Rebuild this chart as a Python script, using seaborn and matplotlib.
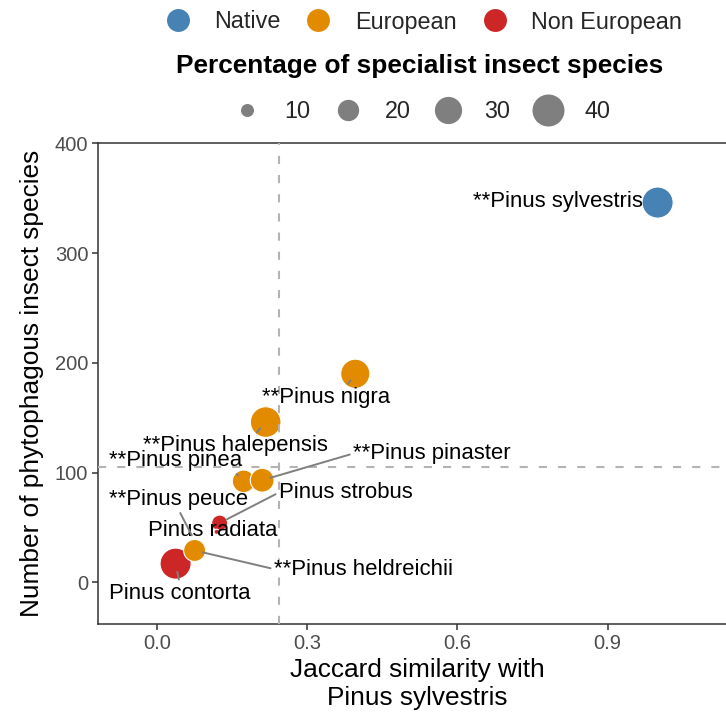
import numpy as np
import pandas as pd
import matplotlib
matplotlib.use("Agg")
import matplotlib.pyplot as plt
from matplotlib.lines import Line2D
import seaborn as sns

# ---------------- data ----------------
species = ["**Pinus sylvestris", "**Pinus nigra", "**Pinus halepensis", "**Pinus pinea",
           "**Pinus pinaster", "Pinus strobus", "Pinus radiata", "Pinus contorta",
           "**Pinus peuce", "**Pinus heldreichii"]
origin = ["Native", "European", "European", "European", "European",
          "Non European", "Non European", "Non European", "European", "European"]
jaccard = [1.0, 0.396, 0.217, 0.173, 0.210, 0.125, 0.119, 0.037, 0.077, 0.075]
n_insects = [346, 190, 146, 92, 93, 54, 46, 17, 36, 29]
pct_specialist = [38, 34, 37, 22, 24, 13, 5, 38, 5, 21]

origin_levels = ["Native", "European", "Non European"]
origin_colors = ["#4682B4", "#E38B00", "#CD2626"]
size_breaks = [10, 20, 30, 40]
x_ticks = [0.0, 0.3, 0.6, 0.9]
x_tick_labels = ["0.0", "0.3", "0.6", "0.9"]
y_ticks = [0, 100, 200, 300, 400]

# label placement (text anchor, data coords) and segment attachment on the label box
label_x = [0.970, 0.338, 0.157, 0.036, 0.549, 0.377, 0.111, 0.045, 0.043, 0.412]
label_y = [346.9, 168.2, 124.2, 111.2, 117.3, 81.8, 47.5, -10.0, 75.7, 12.1]
label_ha = ["right", "center", "center", "center", "center", "center", "center", "center", "center", "center"]
label_relpos = [None, (0.65, 1.0), (0.6, 1.0), (0.94, 0.0), (0.0, 0.5), (0.0, 0.5),
                None, (0.5, 1.0), (0.5, 0.0), (0.0, 0.5)]

df = pd.DataFrame({"species": species, "origin": origin, "jaccard": jaccard,
                   "n": n_insects, "pct": pct_specialist})

# ---------------- style ----------------
sns.set_style("white")
plt.rcParams["font.family"] = ["Liberation Sans", "DejaVu Sans"]

SIZE_NORM = (5, 40)
SIZE_RANGE = (13.7, 531.0)


def size_of(v):
    return SIZE_RANGE[0] + (v - SIZE_NORM[0]) / (SIZE_NORM[1] - SIZE_NORM[0]) * (SIZE_RANGE[1] - SIZE_RANGE[0])


W, H = 726, 716
fig = plt.figure(figsize=(W / 100, H / 100), dpi=100)
pl, pr, pt, pb = 98, 736.7, 143.3, 624
ax = fig.add_axes([pl / W, (H - pb) / H, (pr - pl) / W, (pb - pt) / H])

palette = dict(zip(origin_levels, origin_colors))
sns.scatterplot(data=df, x="jaccard", y="n", hue="origin", palette=palette,
                hue_order=origin_levels, size="pct", sizes=SIZE_RANGE, size_norm=SIZE_NORM,
                edgecolor="white", linewidth=0.8, alpha=1, legend=False, ax=ax, zorder=2)

# mean reference lines
ax.axvline(df["jaccard"].mean(), color="#B3B3B3", lw=1.5, ls=(0, (3.9, 5.3)), zorder=3)
ax.axhline(df["n"].mean(), color="#B3B3B3", lw=1.5, ls=(0, (3.9, 5.3)), zorder=3)

# labels with segments
for i, row in df.iterrows():
    rp = label_relpos[i]
    kw = dict(xy=(row["jaccard"], row["n"]), xytext=(label_x[i], label_y[i]),
              textcoords="data", ha=label_ha[i], va="center", fontsize=15.9,
              color="black", zorder=5)
    if rp is not None:
        kw["arrowprops"] = dict(arrowstyle="-", color="#7F7F7F", lw=1.4,
                                shrinkA=0, shrinkB=6, relpos=rp)
    ax.annotate(row["species"], **kw)

ax.set_xlim(-0.118, 1.158)
ax.set_ylim(-38, 400)
ax.set_xticks(x_ticks)
ax.set_xticklabels(x_tick_labels)
ax.set_yticks(y_ticks)
for s in ax.spines.values():
    s.set_visible(True)
    s.set_color("#333333")
    s.set_linewidth(1.1)
ax.tick_params(axis="both", direction="out", length=4, width=1.1, color="#333333",
               labelsize=14.5, labelcolor="#4D4D4D", pad=3, bottom=True, left=True)
ax.grid(False)
ax.set_xlabel("Jaccard similarity with\nPinus sylvestris", fontsize=18.9, color="black", labelpad=4)
ax.set_ylabel("Number of phytophagous insect species", fontsize=18.9, color="black", labelpad=8)

# ---------------- legends ----------------
color_handles = [Line2D([], [], ls="", marker="o", ms=16.5, mfc=c, mec="none")
                 for c in origin_colors]
fig.legend(color_handles, origin_levels, loc="center", bbox_to_anchor=(423.8 / W, 1 - 22 / H),
           ncol=3, frameon=False, fontsize=16.8, handlelength=1.0, handletextpad=1.05,
           columnspacing=1.14, borderpad=0, borderaxespad=0)

fig.text(419.5 / W, 1 - 66 / H, "Percentage of specialist insect species", ha="center",
         va="center", fontsize=18.9, fontweight="bold", color="black")

size_handles = [Line2D([], [], ls="", marker="o", ms=np.sqrt(size_of(v)), mfc="#7F7F7F", mec="none")
                for v in size_breaks]
fig.legend(size_handles, [str(v) for v in size_breaks], loc="center",
           bbox_to_anchor=(421 / W, 1 - 112 / H), ncol=4, frameon=False, fontsize=16.8,
           handlelength=1.37, handletextpad=0.9, columnspacing=0.9, borderpad=0, borderaxespad=0)

fig.savefig("out.png", dpi=100)
